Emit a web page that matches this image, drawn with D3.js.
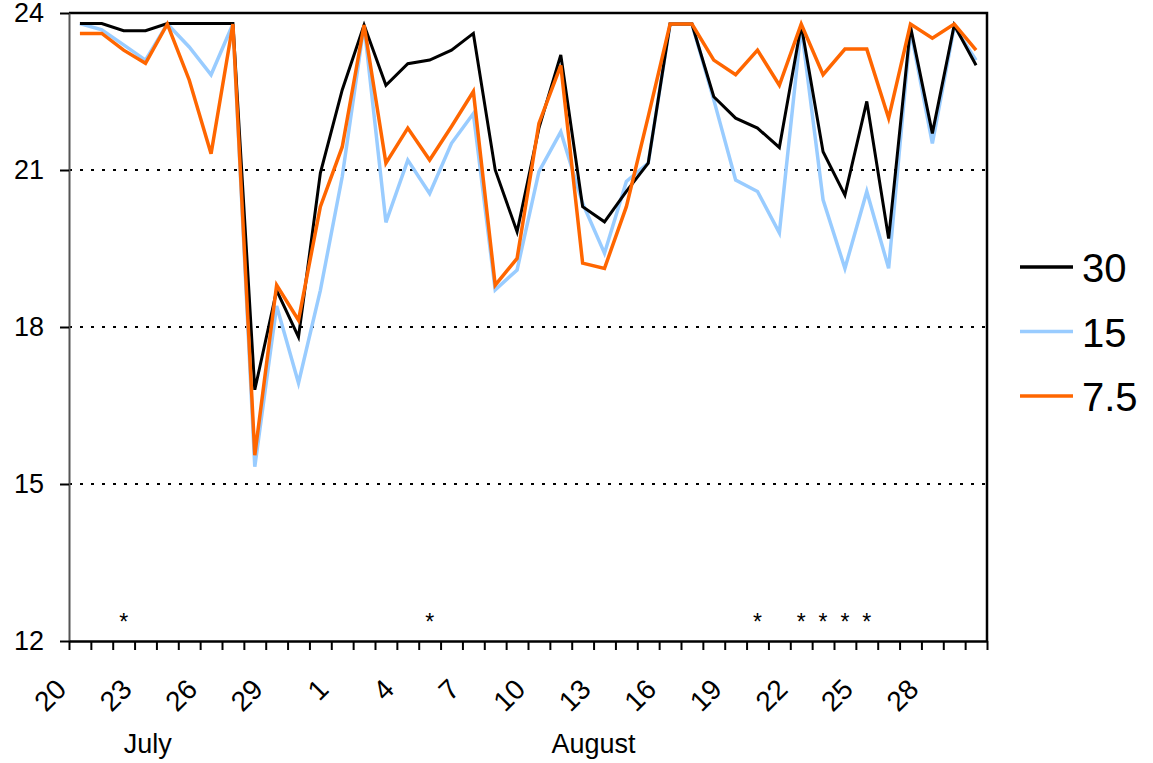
<!DOCTYPE html>
<html>
<head>
<meta charset="utf-8">
<script src="https://cdn.jsdelivr.net/npm/d3@7"></script>
<style>
  body { margin: 0; background: #fff; }
  svg { display: block; font-family: Arial, "Liberation Sans", sans-serif; }
</style>
</head>
<body>
<svg id="chart" width="1153" height="763"></svg>
<script>
// days from 20 July to 30 August
const days = ['20','21','22','23','24','25','26','27','28','29','30','31',
  '1','2','3','4','5','6','7','8','9','10','11','12','13','14','15','16','17','18','19','20',
  '21','22','23','24','25','26','27','28','29','30']

const s30 = [23.8,23.8,23.66,23.66,23.8,23.8,23.8,23.8,16.8,18.7,17.81,20.94,22.53,23.77,
  22.62,23.03,23.1,23.29,23.61,21.0,19.82,21.8,23.2,20.3,20.01,20.59,21.13,23.79,23.79,
  22.4,21.99,21.8,21.43,23.77,21.35,20.52,22.31,19.69,23.74,21.7,23.77,23.0]

const s15 = [23.8,23.68,23.39,23.1,23.79,23.35,22.82,23.79,15.33,18.4,16.93,18.7,20.87,23.77,
  20.0,21.19,20.55,21.51,22.08,18.71,19.09,20.97,21.73,20.36,19.41,20.78,21.13,23.79,23.79,
  22.34,20.81,20.59,19.8,23.74,20.43,19.12,20.59,19.12,23.68,21.51,23.74,23.1]

const s75 = [23.61,23.61,23.29,23.04,23.79,22.72,21.31,23.79,15.55,18.8,18.13,20.3,21.44,23.77,
  21.13,21.8,21.19,21.83,22.5,18.8,19.31,21.89,23.0,19.22,19.12,20.3,22.02,23.79,23.79,
  23.1,22.82,23.29,22.62,23.79,22.82,23.31,23.31,21.99,23.79,23.52,23.79,23.29]

const seriesNames = ['30', '15', '7.5']
const seriesColors = ['#000000', '#99ccff', '#ff6600']
const starDays = [2, 16, 31, 33, 34, 35, 36]
const starValue = 12.45
const yTicks = [12, 15, 18, 21, 24]
const gridValues = [15, 18, 21]
const months = [{ name: 'July', at: 3.1 }, { name: 'August', at: 23.5 }]

const svg = d3.select('#chart')
const plot = { left: 69, right: 987, top: 13, bottom: 641 }

const idx = d3.range(days.length)
const x = d3.scaleBand().domain(idx).range([plot.left, plot.right]).padding(0)
const xEdge = d3.scaleLinear().domain([0, days.length]).range([plot.left, plot.right])
const y = d3.scaleLinear().domain([12, 24]).range([plot.bottom, plot.top])
const cx = i => x(i) + x.bandwidth() / 2

// dotted gridlines
svg.append('g').selectAll('line').data(gridValues).join('line')
  .attr('x1', plot.left).attr('x2', plot.right)
  .attr('y1', d => y(d)).attr('y2', d => y(d))
  .attr('stroke', '#000').attr('stroke-width', 2)
  .attr('stroke-dasharray', '3,8')

// top and right border
svg.append('path')
  .attr('d', `M${plot.left},${plot.top}H${plot.right}V${plot.bottom}`)
  .attr('fill', 'none').attr('stroke', '#000').attr('stroke-width', 2.5)

// y axis
const yAxis = svg.append('g')
  .attr('transform', `translate(${plot.left},0)`)
  .call(d3.axisLeft(y).tickValues(yTicks).tickSize(9).tickPadding(16).tickSizeOuter(0))
  .attr('font-size', 27)
  .attr('font-family', 'Arial, "Liberation Sans", sans-serif')
yAxis.select('.domain').attr('stroke', '#555').attr('stroke-width', 2)
yAxis.selectAll('.tick line').attr('stroke', '#000').attr('stroke-width', 2)
yAxis.selectAll('.tick text').attr('fill', '#000')

// x axis: tick marks on category boundaries
const xAxis = svg.append('g')
  .attr('transform', `translate(0,${plot.bottom})`)
  .call(d3.axisBottom(xEdge).tickValues(d3.range(days.length + 1)).tickSize(9).tickFormat('').tickSizeOuter(0))
xAxis.select('.domain').attr('stroke', '#000').attr('stroke-width', 2.5)
xAxis.selectAll('.tick line').attr('stroke', '#000').attr('stroke-width', 2)

// rotated day labels every third day
svg.append('g').selectAll('text').data(idx.filter(i => i % 3 === 0)).join('text')
  .attr('transform', i => `translate(${cx(i) - 12},${plot.bottom + 50}) rotate(-45)`)
  .attr('text-anchor', 'end')
  .attr('font-size', 28)
  .text(i => days[i])

svg.append('g').selectAll('text').data(months).join('text')
  .attr('x', d => cx(0) + d.at * x.bandwidth())
  .attr('y', 753)
  .attr('text-anchor', 'middle')
  .attr('font-size', 27)
  .text(d => d.name)

// lines
const line = d3.line().x((d, i) => cx(i)).y(d => y(d))
const allSeries = [s30, s15, s75]
const drawOrder = [1, 0, 2]
const widths = [3, 3.5, 3.5]
svg.append('g').selectAll('path').data(drawOrder).join('path')
  .attr('d', k => line(allSeries[k]))
  .attr('fill', 'none')
  .attr('stroke', k => seriesColors[k])
  .attr('stroke-width', k => widths[k])
  .attr('stroke-linejoin', 'miter')

// significance markers
svg.append('g').selectAll('text').data(starDays).join('text')
  .attr('x', i => cx(i))
  .attr('y', y(starValue))
  .attr('dy', 13)
  .attr('text-anchor', 'middle')
  .attr('font-size', 23)
  .text('*')

// legend
const legend = svg.append('g').selectAll('g').data(seriesNames).join('g')
  .attr('transform', (d, i) => `translate(1020,${267 + i * 64.5})`)
legend.append('line')
  .attr('x1', 0).attr('x2', 53)
  .attr('stroke', (d, i) => seriesColors[i])
  .attr('stroke-width', 3.5)
legend.append('text')
  .attr('x', 62).attr('y', 15)
  .attr('font-size', 40)
  .text(d => d)
</script>
</body>
</html>
